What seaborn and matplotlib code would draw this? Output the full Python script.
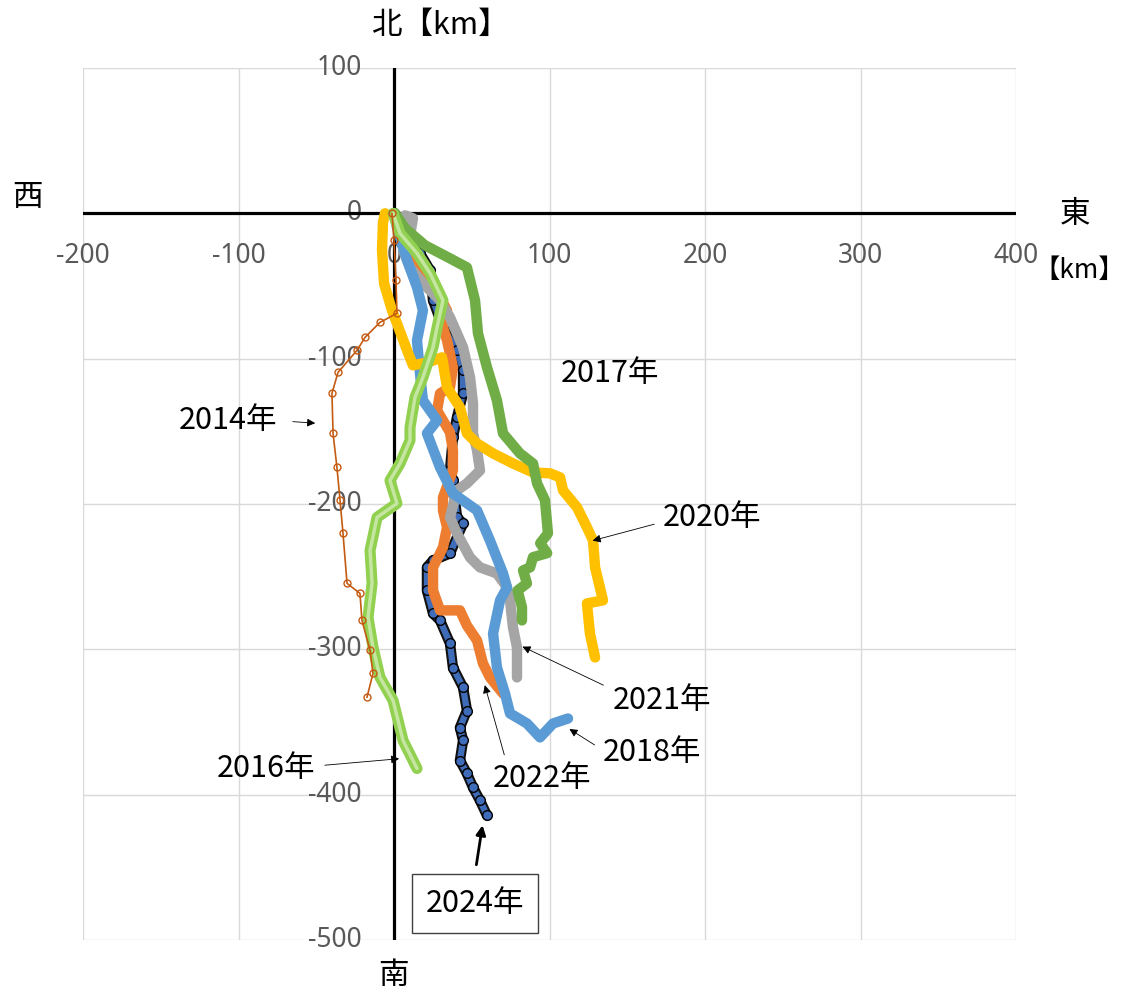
import numpy as np
import pandas as pd
import seaborn as sns
import matplotlib.pyplot as plt

# drift tracks, east (x) / north (y) in km
x_2014 = [-1.3, 0, 1.3, 1.9, -9, -18.6, -23.8, -36, -39.9, -39.2, -36.7, -34.7, -32.8, -30.2, -21.9, -20.6, -15.4, -13.5, -17.4]
y_2014 = [0, -18.6, -46, -68.8, -75, -85.3, -94.3, -109.4, -123.9, -151.4, -174.8, -197.5, -220.2, -254.6, -261.5, -280.1, -300.8, -316.6, -333.1]

x_2016 = [-0.6, 3.9, 14.8, 23.2, 31.5, 27.7, 25.1, 18.6, 13.5, 10.3, 10.3, 3.9, -2.6, 1.9, -10.9, -15.4, -14.1, -16.7, -13.5, -9, -0.6, 5.8, 14.8]
y_2016 = [0, -13.8, -27.5, -41.3, -59.9, -78.5, -92.2, -112.9, -126.6, -147.3, -156.2, -172.1, -183.8, -199.6, -209.2, -231.9, -254.6, -278, -298.7, -319.3, -335.2, -362.7, -382]

x_2017 = [0.6, 7.1, 19.9, 36, 46.9, 52.1, 54, 59.8, 66.2, 70.1, 81, 89.4, 92, 97.1, 99, 94, 98.5, 89.4, 87.5, 83, 85.5, 79.5, 82.3, 82.3]
y_2017 = [0, -10.3, -22, -31, -37.2, -59.9, -82.6, -106, -128.7, -151.4, -165.2, -172.1, -185.8, -197.5, -220.2, -227, -233.8, -236.6, -243.6, -245.7, -254.6, -259.5, -271.1, -280.1]

x_2018 = [0, 1.9, 8.4, 14.8, 18.6, 14.8, 16.7, 18.6, 27.7, 21.2, 29.6, 37.9, 53.4, 61.7, 70.1, 72.7, 68.2, 63.7, 66.2, 71.4, 74.6, 85.5, 93.9, 102.3, 111.9]
y_2018 = [0, -9.6, -32.3, -50.9, -66.8, -87.4, -110.1, -128.7, -142.5, -151.4, -174.8, -192.7, -204.4, -225.1, -247.8, -257.4, -266.3, -289.1, -312.5, -330.4, -344.1, -351, -360.6, -351, -347.6]

x_2020 = [-5.8, -7.1, -7.7, -6.4, -1.3, 1.9, 8.4, 12.2, 21.9, 30.9, 34.1, 42.4, 46.9, 53.4, 63.7, 76.5, 89.4, 100.3, 106.8, 108.7, 117.7, 124.1, 128, 129.3, 134.4, 124.1, 126, 129.3]
y_2020 = [0, -6.2, -25.5, -48.2, -66.8, -75.7, -94.3, -104.6, -102.5, -99.1, -119.8, -133.5, -151.4, -158.3, -165.2, -172.1, -178.3, -178.9, -181.7, -190.6, -202.3, -216.1, -225.1, -243.6, -266.3, -268.4, -289.1, -305.6]

x_2021 = [7.1, 12.2, 10.3, 5.8, 10.3, 19.9, 29.6, 36, 44.4, 48.9, 50.8, 50.8, 53.4, 55.3, 46.9, 40.5, 36, 40.5, 48.9, 55.3, 66.2, 72.7, 74.6, 76.5, 79.1, 79.1]
y_2021 = [-1.4, -3.4, -15.1, -25.5, -37.2, -49.6, -59.9, -71.6, -92.2, -112.9, -130.8, -151.4, -163.1, -176.9, -185.8, -190.6, -209.2, -220.2, -236.8, -243.6, -247.8, -257.4, -266.3, -284.9, -298.7, -319.3]

x_2022 = [0, 3.9, 12.2, 21.2, 29.6, 34.1, 31.5, 34.1, 37.9, 36, 29.6, 27.7, 31.5, 36, 37.9, 37.9, 31.5, 31.5, 34.1, 31.5, 25.1, 25.1, 29.6, 42.4, 46.9, 53.4, 57.2, 61.7, 70.1]
y_2022 = [-0.7, -15.1, -30.3, -41.3, -57.8, -66.8, -78.5, -87.4, -106, -119.8, -123.9, -135.6, -142.5, -150.7, -163.1, -176.9, -195.5, -204.4, -216.1, -229.9, -243.6, -259.5, -273.2, -273.2, -283.6, -293.9, -309.7, -319.3, -330.4]

x_2024 = [0, 7.1, 16.7, 23.2, 25.1, 31.5, 40.5, 44.4, 44.4, 40.5, 37.9, 36, 37.9, 40.5, 44.4, 36, 25.1, 21.2, 21.2, 25.1, 29.6, 36, 37.9, 44.4, 46.9, 42.4, 44.4, 42.4, 46.9, 50.8, 55.3, 59.8]
y_2024 = [0, -15.1, -27.5, -39.2, -59.9, -78.5, -94.3, -108.1, -123.9, -140.4, -154.2, -176.9, -183.8, -209.2, -213.4, -234, -238.8, -243.6, -259.5, -275.3, -280.1, -295.9, -312.5, -326.2, -342.1, -353.8, -362.7, -376.5, -385.4, -395, -404, -414.3]

x_ticks = [-200, -100, 0, 100, 200, 300, 400]
y_ticks = [-500, -400, -300, -200, -100, 0, 100]

# label text, label centre, arrow tail, arrow head
labels = [
    ("2014年", (-106.8, -142.5), (-66.9, -143.2), (-48.9, -144.5)),
    ("2016年", (-82.3, -382), (-46.3, -379.9), (5.1, -375.1)),
    ("2017年", (138.9, -110.1), None, None),
    ("2018年", (165.9, -371), (130.5, -366.8), (111.3, -353.8)),
    ("2020年", (204.5, -209.2), (169.1, -213.4), (126, -225.7)),
    ("2021年", (172.3, -335.2), (136.3, -325.5), (81, -297.3)),
    ("2022年", (95.2, -388.9), (71.4, -374.4), (57.9, -322.8)),
]

sns.set_theme(style="white")
plt.rcParams['font.family'] = ['Noto Sans CJK JP', 'DejaVu Sans']

fig = plt.figure(figsize=(11.27, 9.98), dpi=100)
ax = fig.add_axes([83 / 1127, 1 - 940 / 998, 933 / 1127, 872 / 998])

tracks = {
    "2024": (x_2024, y_2024), "2022": (x_2022, y_2022), "2021": (x_2021, y_2021),
    "2018": (x_2018, y_2018), "2020": (x_2020, y_2020), "2017": (x_2017, y_2017),
    "2016": (x_2016, y_2016), "2014": (x_2014, y_2014),
}
df = pd.concat([pd.DataFrame({"x": xs, "y": ys, "year": yr}) for yr, (xs, ys) in tracks.items()])

thick = {"2022": "#ED7D31", "2021": "#A5A5A5", "2018": "#5B9BD5", "2020": "#FFC000", "2017": "#70AD47"}

# 2024: dark line with blue dots
d = df[df.year == "2024"]
sns.lineplot(data=d, x="x", y="y", sort=False, estimator=None, color="#111111", lw=7.5, ax=ax, zorder=3,
             solid_capstyle="round", solid_joinstyle="round")
sns.lineplot(data=d, x="x", y="y", sort=False, estimator=None, color="#3F6CB8", lw=4.5, ax=ax, zorder=3,
             marker="o", markersize=7, markeredgecolor="black", markeredgewidth=1,
             solid_capstyle="round", solid_joinstyle="round")
for z, (yr, col) in enumerate(thick.items()):
    d = df[df.year == yr]
    sns.lineplot(data=d, x="x", y="y", sort=False, estimator=None, color=col, lw=7.5, ax=ax,
                 zorder=4 + z, solid_capstyle="round", solid_joinstyle="round")
d = df[df.year == "2016"]
sns.lineplot(data=d, x="x", y="y", sort=False, estimator=None, color="#92D050", lw=8, ax=ax, zorder=10,
             solid_capstyle="round", solid_joinstyle="round")
sns.lineplot(data=d, x="x", y="y", sort=False, estimator=None, color="#C4E6A0", lw=2.5, ax=ax, zorder=10)
d = df[df.year == "2014"]
sns.lineplot(data=d, x="x", y="y", sort=False, estimator=None, color="#C55A11", lw=1.2, ax=ax, zorder=11,
             marker="o", markersize=5, markerfacecolor="none", markeredgecolor="#C55A11", markeredgewidth=1)

ax.set_xlim(-200, 400)
ax.set_ylim(-500, 100)
ax.set_xticks(x_ticks)
ax.set_yticks(y_ticks)
ax.grid(True, color="#D9D9D9", lw=1)
ax.tick_params(length=0, labelbottom=False, labelleft=False)
for s in ax.spines.values():
    s.set_visible(False)
ax.set_xlabel("")
ax.set_ylabel("")
ax.axhline(0, color="black", lw=2.3, zorder=2)
ax.axvline(0, color="black", lw=2.3, zorder=2)

for v in x_ticks:
    ax.text(v, -29.6, str(v), ha="center", va="center", fontsize=19, color="#595959",
            family=["Noto Sans", "DejaVu Sans"], zorder=1)
for v in y_ticks:
    ax.text(-20.6, v, str(v), ha="right", va="center", fontsize=19, color="#595959",
            family=["Noto Sans", "DejaVu Sans"], zorder=1)

for txt, pos, tail, head in labels:
    ax.text(pos[0], pos[1], txt, ha="center", va="center", fontsize=22, color="black", zorder=20)
    if tail is not None:
        ax.annotate("", xy=head, xytext=tail, zorder=20,
                    arrowprops=dict(arrowstyle="-|>", color="black", lw=0.6, mutation_scale=12))
ax.text(52.1, -474.9, "2024年", ha="center", va="center", fontsize=22, color="black", zorder=20,
        bbox=dict(boxstyle="square,pad=0.45", facecolor="white", edgecolor="#404040", lw=1))
ax.annotate("", xy=(57.2, -419.1), xytext=(52.7, -450.1), zorder=20,
            arrowprops=dict(arrowstyle="-|>", color="black", lw=2, mutation_scale=14))

def ftext(px, py, s, size=22):
    fig.text(px / 1127, 1 - py / 998, s, ha="center", va="center", fontsize=size, color="black")

ftext(440, 25, "北【km】")
ftext(27, 197, "西")
ftext(1075, 215, "東")
ftext(1079, 270, "【km】", size=19)
ftext(393, 975, "南")

fig.savefig("out.png", dpi=100)
